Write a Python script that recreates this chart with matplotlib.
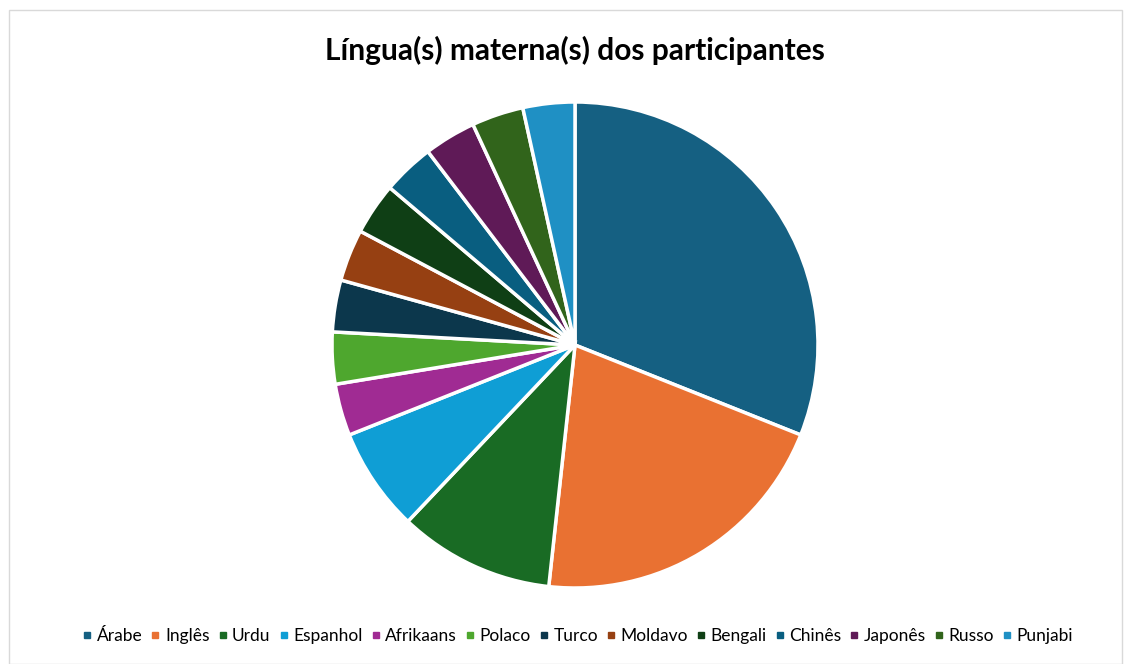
import matplotlib
matplotlib.use("Agg")
import matplotlib.pyplot as plt
from matplotlib.lines import Line2D
from matplotlib.patches import Rectangle

categories = ["Árabe", "Inglês", "Urdu", "Espanhol", "Afrikaans", "Polaco", "Turco",
              "Moldavo", "Bengali", "Chinês", "Japonês", "Russo", "Punjabi"]
counts = [9, 6, 3, 2, 1, 1, 1, 1, 1, 1, 1, 1, 1]
colors = ["#156082", "#E97132", "#196B24", "#0F9ED5", "#A02B93", "#4EA72E", "#0C374C",
          "#964012", "#0F3F15", "#095E80", "#5F1A57", "#31641B", "#1F90C4"]
title = "Língua(s) materna(s) dos participantes"

plt.rcParams['font.family'] = ['Lato', 'DejaVu Sans']

W, H = 1131, 664
fig = plt.figure(figsize=(W / 100, H / 100), dpi=100)

# chart border
fig.patches.append(Rectangle((9 / W, 0.5 / H), (W - 9.5) / W - 9 / W, (H - 10) / H,
                             transform=fig.transFigure, fill=False,
                             edgecolor="#D9D9D9", linewidth=1))

cx, cy, r = 575, 345, 243
ax = fig.add_axes([(cx - r) / W, (H - cy - r) / H, 2 * r / W, 2 * r / H])
ax.pie(counts, colors=colors, startangle=90, counterclock=False, radius=1,
       wedgeprops=dict(edgecolor="white", linewidth=2.5))
ax.set_xlim(-1.0, 1.0)
ax.set_ylim(-1.0, 1.0)
ax.set_aspect("equal")
ax.axis("off")

fig.text(575 / W, 1 - 50 / H, title, ha="center", va="center",
         fontsize=21.5, fontweight="bold", color="#000000")

handles = [Line2D([0], [0], marker="s", linestyle="none", markersize=5,
                  markerfacecolor=c, markeredgecolor=c) for c in colors]
fig.legend(handles, categories, loc="center", bbox_to_anchor=(578 / W, 1 - 636 / H),
           ncol=len(categories), frameon=False, fontsize=12.5,
           handlelength=0.5, handletextpad=0.3, columnspacing=0.5)

fig.savefig("out.png", dpi=100, facecolor="white")
